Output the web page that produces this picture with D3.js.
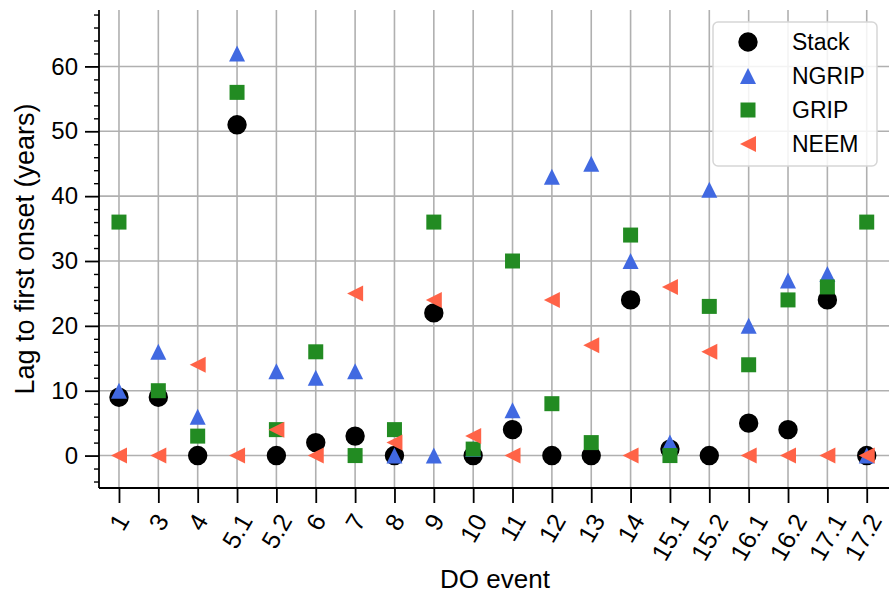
<!DOCTYPE html>
<html>
<head>
<meta charset="utf-8">
<script src="https://cdn.jsdelivr.net/npm/d3@7"></script>
<style>
	body { margin: 0; background: #fff; }
	text { font-family: "Liberation Sans", Arial, sans-serif; fill: #000; }
</style>
</head>
<body>
<svg id="chart" width="889" height="598"></svg>
<script>
/* jshint esversion:6 */
/* global d3 */

// DO events along the x axis
var events = ['1', '3', '4', '5.1', '5.2', '6', '7', '8', '9', '10',
	'11', '12', '13', '14', '15.1', '15.2', '16.1', '16.2', '17.1', '17.2'];

// lag to first onset (years), one value per event
var stack = [9, 9, 0, 51, 0, 2, 3, 0, 22, 0, 4, 0, 0, 24, 1, 0, 5, 4, 24, 0];
var ngrip = [10, 16, 6, 62, 13, 12, 13, 0, 0, 1, 7, 43, 45, 30, 2, 41, 20, 27, 28, 0];
var grip = [36, 10, 3, 56, 4, 16, 0, 4, 36, 1, 30, 8, 2, 34, 0, 23, 14, 24, 26, 36];
var neem = [0, 0, 14, 0, 4, 0, 25, 2, 24, 3, 0, 24, 17, 0, 26, 16, 0, 0, 0, 0];

var yTicks = [0, 10, 20, 30, 40, 50, 60];
var yMinorTicks = d3.range(-4, 69, 2).filter(function(v) { return v % 10 !== 0; });

var svg = d3.select('#chart'),
	margin = {top: 10, right: 0, bottom: 110, left: 99},
	W = 889,
	H = 598,
	plotBottom = H - margin.bottom,
	x = d3.scalePoint().domain(events).range([99.3, 886.4]).padding(0.5),
	y = d3.scaleLinear().domain([-5, 68.7]).range([plotBottom, margin.top]),
	gridColor = '#b0b0b0';

// marker shapes in the style of matplotlib
function circlePath(s) {
	return d3.symbol(d3.symbolCircle, Math.PI * s * s)();
}
function upTriangle(s) {
	return 'M0,' + (-s) + 'L' + (-s) + ',' + s + 'L' + s + ',' + s + 'Z';
}
function leftTriangle(s) {
	return 'M' + (-s) + ',0L' + s + ',' + (-s) + 'L' + s + ',' + s + 'Z';
}
function squarePath(s) {
	return 'M' + (-s) + ',' + (-s) + 'H' + s + 'V' + s + 'H' + (-s) + 'Z';
}

var series = [
	{name: 'Stack', values: stack, color: '#000000', shape: circlePath(9.7)},
	{name: 'NGRIP', values: ngrip, color: '#4169e1', shape: upTriangle(8)},
	{name: 'GRIP', values: grip, color: '#228b22', shape: squarePath(7.5)},
	{name: 'NEEM', values: neem, color: '#ff6347', shape: leftTriangle(8)}
];

// grid
var grid = svg.append('g').attr('class', 'grid');
grid.selectAll('line.vx')
	.data(events)
	.enter().append('line')
		.attr('x1', function(d) { return x(d); })
		.attr('x2', function(d) { return x(d); })
		.attr('y1', margin.top)
		.attr('y2', plotBottom)
		.attr('stroke', gridColor)
		.attr('stroke-width', 1.6);
grid.selectAll('line.hy')
	.data(yTicks)
	.enter().append('line')
		.attr('x1', margin.left)
		.attr('x2', W)
		.attr('y1', function(d) { return y(d); })
		.attr('y2', function(d) { return y(d); })
		.attr('stroke', gridColor)
		.attr('stroke-width', 1.6);

// points
series.forEach(function(s) {
	svg.append('g')
		.selectAll('path')
		.data(s.values)
		.enter().append('path')
			.attr('d', s.shape)
			.attr('fill', s.color)
			.attr('transform', function(d, i) {
				return 'translate(' + x(events[i]) + ',' + y(d) + ')';
			});
});

// y axis
var yAxis = svg.append('g')
	.attr('transform', 'translate(' + margin.left + ',0)')
	.call(d3.axisLeft(y).tickValues(yTicks).tickSize(14).tickPadding(7));
yAxis.select('.domain').remove();
yAxis.selectAll('.tick line').attr('stroke-width', 1.8);
yAxis.selectAll('.tick text')
	.style('font-size', '24px')
	.style('font-family', '"Liberation Sans", Arial, sans-serif');

var yMinor = svg.append('g')
	.attr('transform', 'translate(' + margin.left + ',0)')
	.call(d3.axisLeft(y).tickValues(yMinorTicks).tickSize(5).tickFormat(''));
yMinor.select('.domain').remove();
yMinor.selectAll('.tick line').attr('stroke-width', 1.4);

// x axis
var xAxis = svg.append('g')
	.attr('transform', 'translate(0,' + plotBottom + ')')
	.call(d3.axisBottom(x).tickSize(15).tickFormat(''));
xAxis.select('.domain').remove();
xAxis.selectAll('.tick line').attr('stroke-width', 1.8);

// rotated tick labels, centred on the tick, top of bounding box aligned
// (the last one is nudged in so it stays inside the picture)
var angle = 60,
	rad = angle * Math.PI / 180,
	labelTop = plotBottom + 15 + 8,
	xFont = 25;
events.forEach(function(ev) {
	var t = svg.append('text')
		.attr('text-anchor', 'middle')
		.attr('dominant-baseline', 'central')
		.style('font-size', xFont + 'px')
		.text(ev),
		w = t.node().getComputedTextLength(),
		h = xFont * 0.8,
		bh = w * Math.sin(rad) + h * Math.cos(rad),
		bwFull = w * Math.cos(rad) + xFont * 1.2 * Math.sin(rad),
		cx = Math.min(x(ev), W - 1 - bwFull / 2);
	t.attr('transform', 'translate(' + cx + ',' + (labelTop + bh / 2) + ') rotate(' + (-angle) + ')');
});

// spines
svg.append('line')
	.attr('x1', margin.left).attr('x2', margin.left)
	.attr('y1', margin.top).attr('y2', plotBottom)
	.attr('stroke', '#000').attr('stroke-width', 1.8);
svg.append('line')
	.attr('x1', margin.left).attr('x2', W)
	.attr('y1', plotBottom).attr('y2', plotBottom)
	.attr('stroke', '#000').attr('stroke-width', 1.8);

// axis labels
svg.append('text')
	.attr('x', 495)
	.attr('y', 588)
	.attr('text-anchor', 'middle')
	.style('font-size', '26px')
	.text('DO event');
svg.append('text')
	.attr('transform', 'translate(34,' + (margin.top + plotBottom) / 2 + ') rotate(-90)')
	.attr('text-anchor', 'middle')
	.style('font-size', '27px')
	.text('Lag to first onset (years)');

// legend
var legend = svg.append('g').attr('transform', 'translate(713,22)');
legend.append('rect')
	.attr('width', 164)
	.attr('height', 144)
	.attr('rx', 5)
	.attr('fill', '#fff')
	.attr('fill-opacity', 0.85)
	.attr('stroke', '#d6d6d6')
	.attr('stroke-width', 1.5);
var rows = legend.selectAll('g.row')
	.data(series)
	.enter().append('g')
		.attr('transform', function(d, i) { return 'translate(0,' + (20 + i * 34) + ')'; });
rows.append('path')
	.attr('d', function(d) { return d.shape; })
	.attr('fill', function(d) { return d.color; })
	.attr('transform', 'translate(35,0)');
rows.append('text')
	.attr('x', 79)
	.attr('dy', '0.35em')
	.style('font-size', '23px')
	.text(function(d) { return d.name; });
</script>
</body>
</html>
